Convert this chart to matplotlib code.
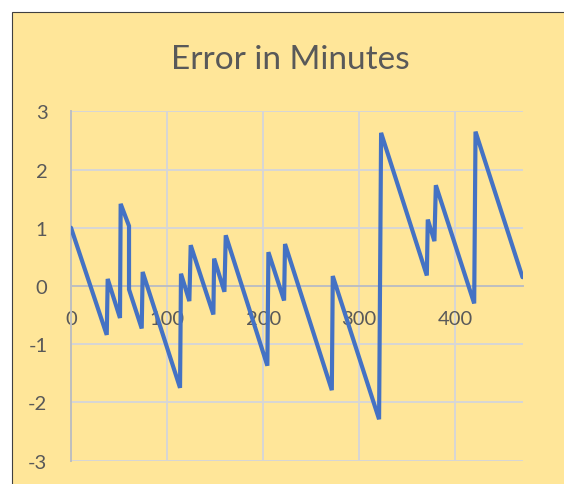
import matplotlib.pyplot as plt
from matplotlib.patches import Rectangle

# readings of the error curve (minutes vs. error in minutes)
minutes = [0, 37.2, 38.2, 51, 51.7, 60.4, 60.4, 73.6, 74.6, 113.5, 114.5,
           123.2, 124.6, 148.2, 149, 159.7, 161.1, 204.4, 205.5, 221.8, 222.8,
           271.5, 272.5, 320.7, 322.8, 370.4, 371.4, 378.3, 379.8, 419.7,
           421.1, 470]
error = [1.0, -0.84, 0.12, -0.55, 1.41, 1.03, -0.06, -0.73, 0.24, -1.75, 0.21,
         -0.26, 0.70, -0.49, 0.47, -0.10, 0.87, -1.37, 0.58, -0.25, 0.72,
         -1.79, 0.17, -2.29, 2.63, 0.18, 1.14, 0.77, 1.73, -0.30,
         2.65, 0.15]
x_ticks = [0, 100, 200, 300, 400]
y_ticks = [-3, -2, -1, 0, 1, 2, 3]

plt.rcParams['font.family'] = ['Lato', 'DejaVu Sans']
plt.rcParams['axes.unicode_minus'] = False
W, H = 564, 485
fig = plt.figure(figsize=(W / 100, H / 100), dpi=100, facecolor='white')
fig.patches.append(Rectangle((11.5 / W, -0.1), 1.2, 1.1 - 12.7 / H,
                             transform=fig.transFigure, facecolor='#FFE699',
                             edgecolor='#404040', linewidth=0.8, zorder=-5))

ax = fig.add_axes([71 / W, 1 - 461.6 / H, (522.5 - 71) / W, (461.6 - 112.3) / H])
ax.set_facecolor('none')
ax.plot(minutes, error, color='#4472C4', linewidth=3, solid_joinstyle='miter',
        solid_capstyle='round', zorder=3)

ax.set_xlim(0, 470)
ax.set_ylim(-3, 3)
ax.set_xticks(x_ticks)
ax.set_yticks(y_ticks)
ax.grid(True, color='#D6D6D6', linewidth=1.4, zorder=0)
for s in ['top', 'right']:
    ax.spines[s].set_visible(False)
ax.spines['bottom'].set_position(('data', 0))
ax.spines['bottom'].set_color('#BFBFBF')
ax.spines['left'].set_color('#BFBFBF')
ax.spines['bottom'].set_linewidth(1.4)
ax.spines['left'].set_linewidth(1.4)
ax.tick_params(axis='both', length=0, labelsize=14.5, labelcolor='#595959')
ax.tick_params(axis='x', pad=17)
ax.tick_params(axis='y', pad=17)

fig.text(290 / W, 1 - 60 / H, "Error in Minutes", ha='center', va='center',
         fontsize=24, color='#595959')

fig.savefig('out.png', dpi=100)
